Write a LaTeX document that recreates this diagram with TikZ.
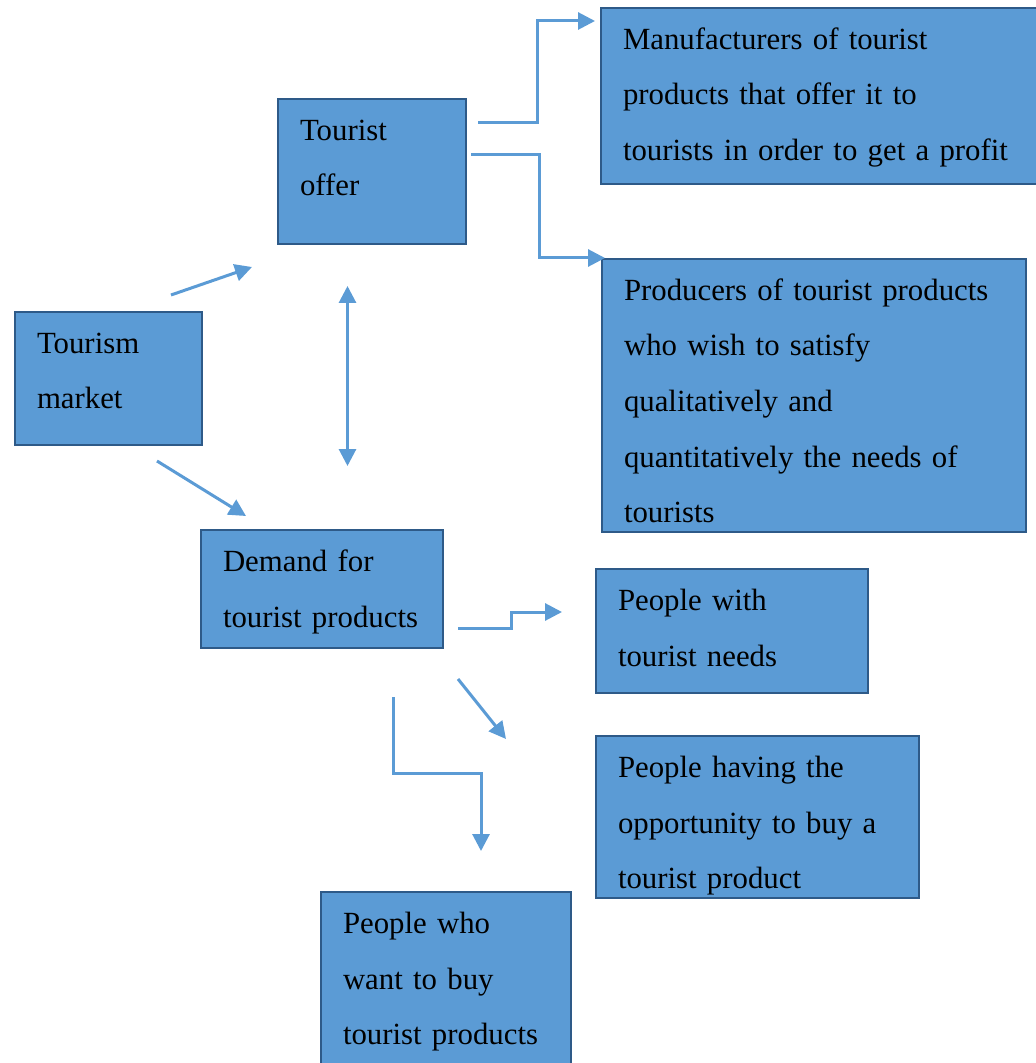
\documentclass[tikz,border=0pt]{standalone}
\usepackage{fontspec}
\setmainfont{Liberation Serif}
\usetikzlibrary{positioning,arrows.meta,calc}
\definecolor{boxfill}{HTML}{5B9BD5}
\definecolor{boxline}{HTML}{2E5A88}
\definecolor{linkblue}{HTML}{5B9BD5}
\tikzset{
	block/.style={draw=boxline,fill=boxfill,line width=1pt,anchor=north west,
		align=left,inner xsep=11pt,inner ysep=0pt,text height=20.75pt,
		font=\fontsize{15.4}{27.75}\selectfont},
	link/.style={draw=linkblue,line width=1.5pt,-{Triangle[length=8.5pt,width=8.5pt]}},
	twoway/.style={draw=linkblue,line width=1.5pt,
		{Triangle[length=8.5pt,width=8.5pt]}-{Triangle[length=8.5pt,width=8.5pt]}}
}

\begin{document}
\begin{tikzpicture}[x=0.5pt,y=-0.5pt]
	\useasboundingbox (0,0) rectangle (1036,1063);
	
	\node[block,minimum width=220pt,text depth=67.25pt,text width=198pt] (manuf) at (600,7)
		{Manufacturers of tourist\\products that offer it to\\tourists in order to get a profit};
	\node[block,minimum width=94pt,text depth=51.75pt,text width=72pt] (offer) at (277,98)
		{Tourist\\offer};
	\node[block,minimum width=212pt,text depth=115.75pt,text width=190pt] (prod) at (601,258)
		{Producers of tourist products\\who wish to satisfy\\qualitatively and\\quantitatively the needs of\\tourists};
	\node[block,minimum width=93.5pt,text depth=45.75pt,text width=71.5pt] (market) at (14,311)
		{Tourism\\market};
	\node[block,minimum width=121pt,text depth=38.25pt,text width=99pt] (demand) at (200,529)
		{Demand for\\tourist~products};
	\node[block,minimum width=136pt,text depth=41.25pt,text width=114pt] (pwith) at (595,568)
		{People with\\tourist needs};
	\node[block,minimum width=161.5pt,text depth=60.25pt,text width=139.5pt] (phaving) at (595,735)
		{People having the\\opportunity to buy a\\tourist product};
	\node[block,minimum width=125pt,text depth=67.25pt,text width=103pt] (pwho) at (320,891)
		{People who\\want to buy\\tourist~products};
	
	% free ends of the connectors
	\coordinate (offer-a) at (478,123);
	\coordinate (offer-b) at (471,155);
	\coordinate (manuf-in) at (595,21);
	\coordinate (prod-in) at (605,258);
	\coordinate (market-a) at (171,295);
	\coordinate (market-b) at (157,461);
	\coordinate (offer-in) at (252,267);
	\coordinate (demand-in) at (246,516);
	\coordinate (up) at (347.5,286);
	\coordinate (down) at (347.5,466);
	\coordinate (demand-a) at (458,628);
	\coordinate (demand-b) at (458,679);
	\coordinate (demand-c) at (393,697);
	\coordinate (pwith-in) at (562,612);
	\coordinate (phaving-in) at (506,739);
	\coordinate (pwho-in) at (481,851);
	
	\draw[link] (offer-a) -- ++(59,0) |- (manuf-in);
	\draw[link] (offer-b) -- ++(68,0) |- (prod-in);
	\draw[link] (market-a) -- (offer-in);
	\draw[link] (market-b) -- (demand-in);
	\draw[twoway] (up) -- (down);
	\draw[link] (demand-a) -- ++(53,0) |- (pwith-in);
	\draw[link] (demand-b) -- (phaving-in);
	\draw[link] (demand-c) -- ++(0,76) -| (pwho-in);
\end{tikzpicture}
\end{document}
